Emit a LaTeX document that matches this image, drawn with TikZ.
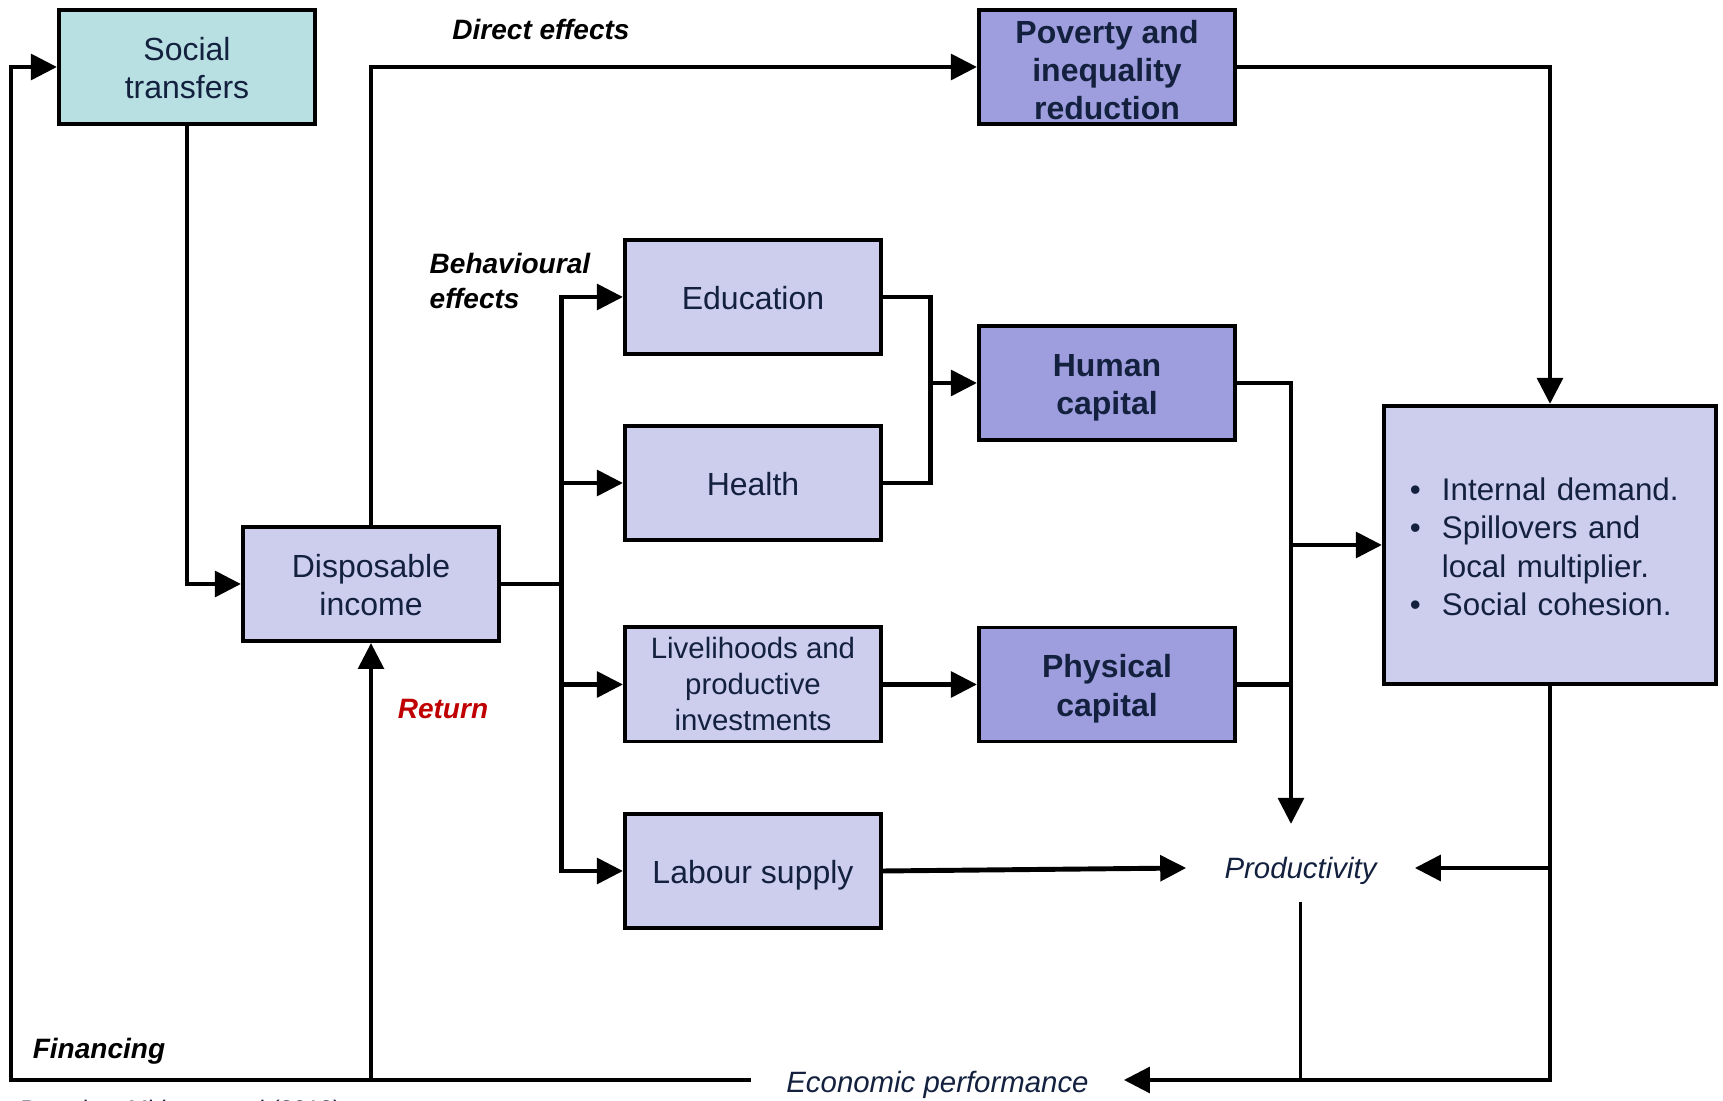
\documentclass[tikz,border=0pt]{standalone}
\usepackage{fontspec}
\setmainfont{Liberation Sans}
\usetikzlibrary{arrows.meta,calc}
\definecolor{navy}{HTML}{13213F}
\definecolor{lightbox}{HTML}{CDCDEE}
\definecolor{darkbox}{HTML}{9E9EDE}
\definecolor{tealbox}{HTML}{B8E0E2}
\definecolor{retred}{HTML}{C00000}
\newcommand{\lw}[2][1.3pt]{\raisebox{-#1}[\height][\depth]{\begin{tabular}{@{}c@{}}#2\end{tabular}}}
\tikzset{
  box/.style={draw=black, line width=1.1pt, fill=lightbox, text=navy,
    minimum width=2.56cm, minimum height=1.14cm, inner sep=1pt, align=center,
    font=\fontsize{9.1}{10.95}\selectfont},
  darkb/.style={box, fill=darkbox, font=\fontsize{9.1}{10.95}\selectfont\bfseries},
  conn/.style={line width=1.4pt, black},
  arr/.style={conn, -{Triangle[length=7.4pt,width=7.2pt]}},
  lab/.style={font=\fontsize{7.97}{9.7}\selectfont\bfseries\itshape, inner sep=0pt},
  itl/.style={font=\fontsize{8.36}{10}\selectfont\itshape, text=navy, inner sep=0pt}
}
\begin{document}
\begin{tikzpicture}[x=0.01cm,y=-0.01cm]
\useasboundingbox (0,0) rectangle (1723,1101);
% boxes
\node[box, fill=tealbox] (st) at (187,67) {\lw{Social\\transfers}};
\node[box] (di) at (371,584) {\lw{Disposable\\income}};
\node[box] (edu) at (753,297) {\lw{Education}};
\node[box] (hea) at (753,483) {\lw{Health}};
\node[box, font=\fontsize{8.36}{10.15}\selectfont] (liv) at (753,684.5) {\lw[0.8pt]{Livelihoods and\\productive\\investments}};
\node[box] (lab) at (753,871) {\lw{Labour supply}};
\node[darkb, inner ysep=0pt, font=\fontsize{9.1}{10.75}\selectfont\bfseries] (pov) at (1107,67) {\lw[2pt]{Poverty and\\inequality\\reduction}};
\node[darkb] (hum) at (1107,383) {\lw[1.4pt]{Human\\capital}};
\node[darkb] (phy) at (1107,684.5) {\lw[1.4pt]{Physical\\capital}};
\node[box, minimum height=2.78cm, text width=2.8cm, inner xsep=0.26cm, align=left,
      font=\fontsize{8.9}{10.95}\selectfont] (rb) at (1550,545)
  {\raisebox{-1.5pt}[\height][\depth]{\begin{tabular}{@{}l@{\hspace{6pt}}l@{}}•&Internal demand.\\•&Spillovers and\\&local multiplier.\\•&Social cohesion.\end{tabular}}};
\node[itl, minimum width=2.27cm, minimum height=0.66cm] (prod) at (1300.5,868) {\lw[1pt]{Productivity}};
\node[itl, minimum width=3.71cm, minimum height=0.5cm] (econ) at (937.5,1080) {\lw[1.5pt]{Economic performance}};
% labels
\node[lab] (de) at (541,29) {Direct effects};
\node[lab, anchor=west, align=left] (be) at (429,281) {Behavioural\\effects};
\node[lab, text=retred] (ret) at (443,709) {Return};
\node[lab] (fin) at (99,1051) {Financing};
\node[font=\fontsize{6.8}{8}\selectfont, text=navy, anchor=north west, inner sep=0pt] (src) at (20,1099) {Based on Mideros et al (2013)};
% coordinates
\coordinate (lc) at (11,67);
\coordinate (bus1) at (561.5,584);
\coordinate (bus2) at (930.8,383);
\coordinate (bus3) at (1291,545);
\coordinate (prodtop) at (1291,824);
% connectors
\draw[arr] (econ.west) -| (lc) -- (st.west);
\draw[arr] (di.south |- econ.west) -- (di.south);
\draw[arr] (st.south) |- (di.west);
\draw[arr] (di.north) |- (pov.west);
\draw[conn] (di.east) -- (bus1);
\draw[arr] (bus1) |- (edu.west);
\draw[arr] (bus1) |- (lab.west);
\draw[arr] (bus1 |- hea.west) -- (hea.west);
\draw[arr] (bus1 |- liv.west) -- (liv.west);
\draw[conn] (edu.east) -| (bus2) |- (hea.east);
\draw[arr] (bus2) -- (hum.west);
\draw[arr] (liv.east) -- (phy.west);
\draw[conn] (hum.east) -| (bus3);
\draw[conn] (phy.east) -| (bus3);
\draw[arr] (bus3) -- (bus3 -| rb.west);
\draw[arr] (bus3) -- (prodtop);
\draw[arr] (pov.east) -| (rb.north);
\draw[arr] (rb.south) |- (econ.east);
\draw[arr] (rb.south |- prod.east) -- (prod.east);
\draw[arr] (lab.east) -- (prod.west);
\draw[line width=1.1pt] (prod.south) -- (prod.south |- econ.east);
\end{tikzpicture}
\end{document}
